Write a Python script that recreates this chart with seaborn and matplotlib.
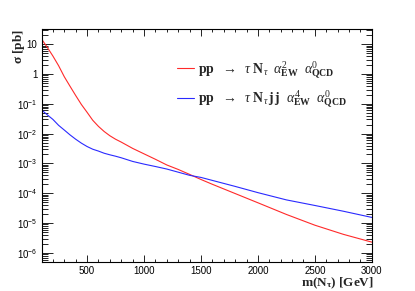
import numpy as np
import pandas as pd
import matplotlib
matplotlib.use("Agg")
import matplotlib.pyplot as plt
import matplotlib.ticker as mticker
import seaborn as sns

# values (sigma in pb)
mass = [100, 150, 200, 250, 300, 350, 400, 450, 500, 550, 600, 650, 700, 750,
        800, 900, 1000, 1100, 1200, 1300, 1400, 1500, 1600, 1800, 2000, 2250,
        2500, 2750, 3000]
sigma_tauN = [15, 7.9, 4.0, 1.9, 0.81, 0.39, 0.19, 0.095, 0.052, 0.028, 0.0175,
              0.0118, 0.0085, 0.0065, 0.0052, 0.0032, 0.0021, 0.00138, 8.9e-4,
              6.3e-4, 4.3e-4, 2.9e-4, 2.0e-4, 9.8e-5, 4.8e-5, 1.95e-5, 8.5e-6,
              4.2e-6, 2.3e-6]
sigma_tauNjj = [0.063, 0.043, 0.030, 0.019, 0.0132, 0.0091, 0.0065, 0.0048,
                0.0037, 0.0030, 0.0026, 0.0022, 0.00195, 0.00175, 0.00155,
                0.00117, 9.5e-4, 7.9e-4, 6.5e-4, 5.1e-4, 4.0e-4, 3.4e-4, 2.7e-4,
                1.7e-4, 1.05e-4, 6.0e-5, 3.9e-5, 2.5e-5, 1.55e-5]
labels = [r"$\mathbf{pp}\ \ \rightarrow\ \ \tau\ \mathbf{N}_{\tau}\ \ \alpha^{2}_{\mathbf{EW}}\ \ \alpha^{0}_{\mathbf{QCD}}$",
          r"$\mathbf{pp}\ \ \rightarrow\ \ \tau\ \mathbf{N}_{\tau}\,\mathbf{j}\,\mathbf{j}\ \ \alpha^{4}_{\mathbf{EW}}\ \ \alpha^{0}_{\mathbf{QCD}}$"]

df = pd.DataFrame({
    "m": mass * 2,
    "sigma": sigma_tauN + sigma_tauNjj,
    "proc": [labels[0]] * len(mass) + [labels[1]] * len(mass),
})

sns.set_theme(style="ticks")
plt.rcParams["font.family"] = ["Liberation Sans", "DejaVu Sans"]
plt.rcParams["mathtext.fontset"] = "custom"
plt.rcParams["mathtext.rm"] = "Liberation Serif"
plt.rcParams["mathtext.it"] = "Liberation Serif:italic"
plt.rcParams["mathtext.bf"] = "Liberation Serif:bold"

fig = plt.figure(figsize=(4.15, 2.91), dpi=100)
ax = fig.add_axes([0.100, 0.100, 0.796, 0.800])

sns.lineplot(data=df, x="m", y="sigma", hue="proc", palette=["#ff2a2a", "#2a2aff"],
             linewidth=0.8, ax=ax)
ax.set_yscale("log")
ax.set_xlim(100, 3000)
ax.set_ylim(5e-7, 32)

ax.xaxis.set_major_locator(mticker.MultipleLocator(500))
ax.xaxis.set_minor_locator(mticker.MultipleLocator(100))
ax.yaxis.set_major_locator(mticker.LogLocator(base=10, numticks=20))
ax.yaxis.set_minor_locator(mticker.LogLocator(base=10, subs=np.arange(2, 10), numticks=20))


def yfmt(v, pos):
    if np.isclose(v, 10):
        return "10"
    if np.isclose(v, 1):
        return "1"
    e = int(round(np.log10(v)))
    return r"$\mathregular{10^{%d}}$" % e


ax.yaxis.set_major_formatter(mticker.FuncFormatter(yfmt))
ax.xaxis.set_major_formatter(mticker.FuncFormatter(lambda v, p: "%d" % v if v >= 500 else ""))

ax.tick_params(which="both", direction="in", top=True, right=True, labelsize=7,
               width=0.6, colors="black", pad=3)
ax.tick_params(axis="x", which="major", length=5)
ax.tick_params(axis="x", which="minor", length=2.5)
ax.tick_params(axis="y", which="major", length=8)
ax.tick_params(axis="y", which="minor", length=4)
for s in ax.spines.values():
    s.set_linewidth(0.8)
    s.set_color("black")

ax.set_xlabel("")
ax.set_ylabel("")
fig.text(0.900, 0.027, r"$\mathbf{m(N_{\tau})\ [GeV]}$", ha="right",
         va="center", fontsize=9.5)
fig.text(0.045, 0.90, r"$\mathbf{\sigma\ [pb]}$", rotation=90, ha="center", va="top",
         fontsize=9.5)

leg = ax.legend(loc="upper left", bbox_to_anchor=(0.41, 0.873), frameon=False,
                borderaxespad=0, borderpad=0,
                fontsize=10, handlelength=1.2, labelspacing=0.55, handletextpad=0.35)
for line in leg.get_lines():
    line.set_linewidth(0.8)

fig.savefig("out.png", dpi=100)
